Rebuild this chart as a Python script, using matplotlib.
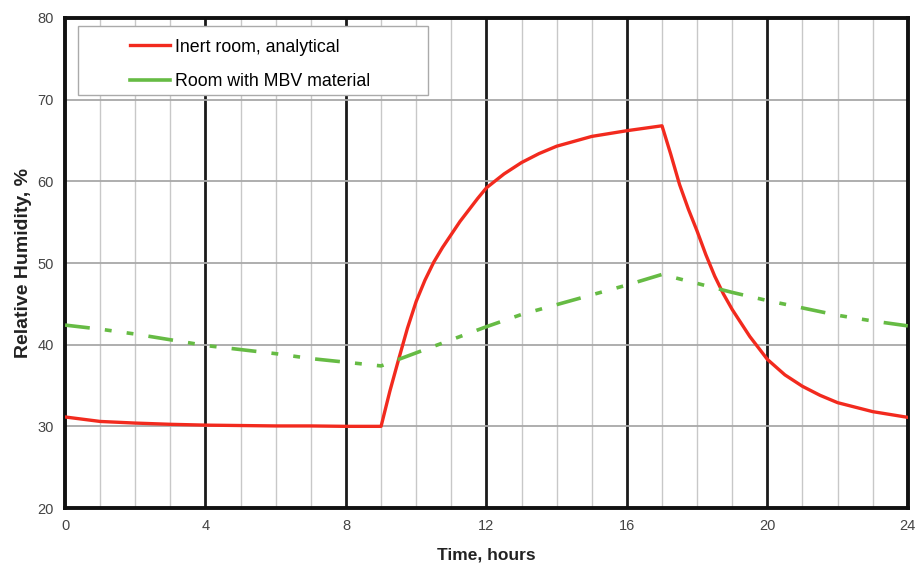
import matplotlib.pyplot as plt
from matplotlib.lines import Line2D
from matplotlib.patches import Rectangle

plt.rcParams['font.family'] = ['Liberation Sans', 'DejaVu Sans']

# inert room, analytical solution
t_inert = [0, 1, 2, 3, 4, 5, 6, 7, 8, 9,
           9.25, 9.5, 9.75, 10, 10.25, 10.5, 10.75, 11, 11.25, 11.5, 11.75, 12, 12.5, 13, 13.5, 14, 15, 16, 17,
           17.25, 17.5, 17.75, 18, 18.25, 18.5, 18.75, 19, 19.5, 20, 20.5, 21, 21.5, 22, 23, 24]
rh_inert = [31.15, 30.6, 30.4, 30.25, 30.15, 30.1, 30.05, 30.05, 30.0, 30.0,
            34.3, 38.2, 42.0, 45.3, 47.9, 50.1, 51.9, 53.5, 55.1, 56.5, 57.9, 59.2, 60.9, 62.3, 63.4, 64.3, 65.5, 66.2, 66.8,
            63.3, 59.6, 56.6, 53.9, 51.0, 48.4, 46.2, 44.3, 41.0, 38.2, 36.3, 34.9, 33.8, 32.9, 31.8, 31.1]

# room with MBV material
t_mbv = [0, 1, 2, 3, 4, 5, 6, 7, 8, 9, 10, 11, 12,
         13, 14, 15, 16, 17, 18, 19, 20, 21, 22, 23, 24]
rh_mbv = [42.4, 41.9, 41.3, 40.6, 39.9, 39.4, 38.9, 38.3, 37.85, 37.4, 39.0, 40.6, 42.2,
          43.7, 44.9, 46.1, 47.3, 48.6, 47.5, 46.4, 45.4, 44.5, 43.6, 42.9, 42.3]

xticks = [0, 4, 8, 12, 16, 20, 24]
yticks = [20, 30, 40, 50, 60, 70, 80]

fig = plt.figure(figsize=(9.17, 5.71), dpi=100)
ax = fig.add_axes([0.0709, 0.1103, 0.9191, 0.8582])

# grid: thin grey every hour, thick black every 4 h
for h in range(1, 24):
    if h % 4 == 0:
        ax.axvline(h, color='#1a1a1a', lw=2.0, zorder=1)
    else:
        ax.axvline(h, color='#c8c8c8', lw=1.0, zorder=1)
for v in yticks[1:-1]:
    ax.axhline(v, color='#a8a8a8', lw=1.3, zorder=1)

ax.plot(t_inert, rh_inert, color='#f22a1e', lw=2.4, zorder=3)
ax.plot(t_mbv, rh_mbv, color='#66bb44', lw=2.6, zorder=3,
        dashes=(6.9, 4.2, 1.9, 4.2, 1.9, 4.2))

ax.set_xlim(0, 24)
ax.set_ylim(20, 80)
ax.set_xticks(xticks)
ax.set_yticks(yticks)
ax.tick_params(length=0, labelsize=10.5, labelcolor='#444444', pad=8)
for s in ax.spines.values():
    s.set_linewidth(2.8)
    s.set_color('#111111')

ax.set_xlabel('Time, hours', fontsize=12.5, fontweight='bold', color='#222222', labelpad=10)
ax.set_ylabel('Relative Humidity, %', fontsize=14, fontweight='bold', color='#222222', labelpad=4)

# legend box
ax.add_patch(Rectangle((0.0154, 0.843), 0.4152, 0.1407, transform=ax.transAxes,
                       facecolor='white', edgecolor='#aaaaaa', lw=1.0, zorder=4))
handles = [Line2D([], [], color='#f22a1e', lw=2.4),
           Line2D([], [], color='#66bb44', lw=2.6)]
leg = ax.legend(handles, ['Inert room, analytical', 'Room with MBV material'],
                loc='upper left', bbox_to_anchor=(0.0771, 0.958), fontsize=12.8,
                frameon=False, handlelength=2.25, borderpad=0, borderaxespad=0,
                labelspacing=1.0, handletextpad=0.3)
leg.set_zorder(5)

fig.savefig('out.png', dpi=100)
